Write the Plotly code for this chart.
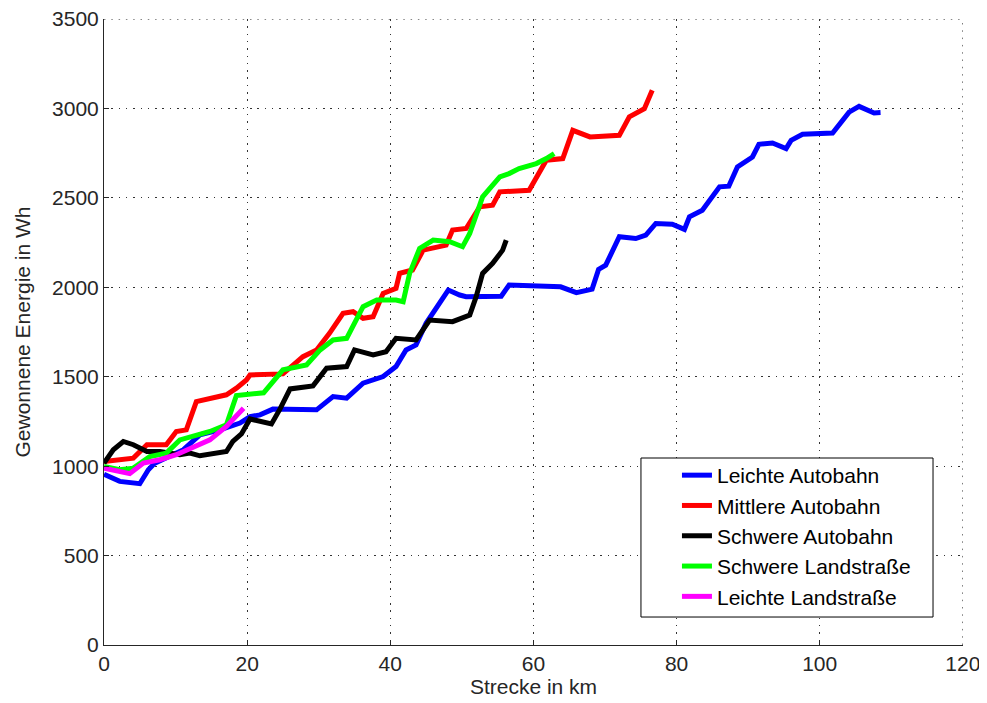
import plotly.graph_objects as go

# ---- data ----
blue_x = [0, 2.2, 5.0, 6.2, 7.1, 11.1, 13.4, 16.2, 19.0, 20.4, 21.8, 23.6, 29.7, 32.0, 33.9, 36.2, 39.0,
          40.8, 42.2, 43.6, 45.0, 46.9, 48.1, 49.7, 50.6, 55.5, 56.6, 63.8, 66.0, 68.2, 69.1, 70.1, 72.0,
          74.3, 75.7, 77.1, 79.4, 81.1, 81.8, 83.6, 84.6, 86.0, 87.3, 88.5, 90.6, 91.5, 93.4, 95.3, 96.0,
          97.6, 101.8, 102.7, 104.1, 105.5, 106.4, 107.6, 108.5]
blue_y = [955, 915, 902, 980, 1017, 1092, 1175, 1203, 1241, 1277, 1287, 1319, 1315, 1389, 1380, 1464, 1501,
          1557, 1650, 1678, 1799, 1911, 1985, 1957, 1948, 1950, 2013, 2003, 1970, 1990, 2100, 2124, 2283,
          2273, 2292, 2357, 2353, 2324, 2394, 2431, 2487, 2562, 2566, 2673, 2729, 2800, 2807, 2776, 2822,
          2856, 2863, 2906, 2980, 3012, 2999, 2975, 2977]

red_x = [0, 2.2, 4.1, 6.0, 8.7, 10.1, 11.5, 12.9, 14.8, 17.1, 18.5, 19.9, 20.4, 25.0, 27.8, 29.7, 31.5,
         33.4, 34.8, 36.2, 37.6, 39.0, 40.8, 41.3, 43.1, 44.6, 47.8, 48.7, 50.6, 52.5, 54.3, 55.3, 59.4,
         60.8, 61.8, 64.1, 65.5, 67.9, 72.0, 73.4, 75.5, 76.6]
red_y = [1026, 1036, 1045, 1120, 1120, 1194, 1203, 1361, 1380, 1399, 1436, 1482, 1510, 1516, 1612, 1650, 1743,
         1855, 1864, 1827, 1836, 1966, 1994, 2078, 2097, 2208, 2236, 2320, 2329, 2450, 2459, 2534, 2543,
         2636, 2711, 2720, 2878, 2841, 2850, 2953, 2999, 3102]

black_x = [0, 1.3, 2.7, 4.1, 6.0, 7.8, 10.6, 12.0, 13.4, 14.8, 17.1, 18.0, 19.2, 20.4, 21.8, 23.4, 24.6,
           26.0, 29.2, 31.1, 33.9, 35.0, 37.6, 39.4, 40.8, 43.6, 45.5, 48.7, 51.1, 52.0, 52.9, 54.3, 55.7, 56.2]
black_y = [1017, 1092, 1138, 1120, 1082, 1082, 1064, 1073, 1058, 1069, 1082, 1138, 1180, 1264, 1250, 1236, 1320,
           1432, 1449, 1548, 1557, 1650, 1622, 1640, 1715, 1706, 1817, 1808, 1845, 1948, 2078, 2134, 2208, 2264]

green_x = [0, 2.2, 4.1, 6.4, 8.7, 10.6, 14.8, 17.1, 18.5, 20.8, 22.3, 25.0, 28.3, 30.2, 32.0, 33.9, 36.2,
           38.1, 40.8, 41.8, 42.7, 44.1, 46.0, 48.3, 50.1, 51.1, 52.9, 55.3, 56.6, 58.0, 60.4, 61.8, 62.9]
green_y = [998, 980, 989, 1054, 1073, 1147, 1194, 1231, 1395, 1400, 1410, 1539, 1566, 1650, 1706, 1715, 1892,
           1929, 1929, 1920, 2078, 2218, 2264, 2255, 2227, 2301, 2506, 2618, 2636, 2664, 2692, 2720, 2748]

magenta_x = [0, 1.8, 3.6, 5.5, 7.8, 10.1, 12.5, 14.8, 17.1, 18.5, 19.5]
magenta_y = [989, 970, 958, 1017, 1036, 1064, 1110, 1147, 1222, 1278, 1324]

series = [
    ("Leichte Autobahn", blue_x, blue_y, "#0000FF"),
    ("Mittlere Autobahn", red_x, red_y, "#FF0000"),
    ("Schwere Autobahn", black_x, black_y, "#000000"),
    ("Schwere Landstraße", green_x, green_y, "#00FF00"),
    ("Leichte Landstraße", magenta_x, magenta_y, "#FF00FF"),
]

x_ticks = [0, 20, 40, 60, 80, 100, 120]
y_ticks = [0, 500, 1000, 1500, 2000, 2500, 3000, 3500]

GRID_DASH = "1.5px,5.8px"
GRID_COLOR = "#333333"

fig = go.Figure()
for name, xs, ys, col in series:
    fig.add_trace(go.Scatter(x=xs, y=ys, mode="lines", name=name,
                             line=dict(color=col, width=5)))

FAM = "Liberation Sans, Arial, sans-serif"
font = dict(family=FAM, size=21, color="#262626")

axis_common = dict(
    showline=True, linecolor="#262626", linewidth=1, mirror=False,
    ticks="inside", ticklen=5, tickcolor="#262626",
    showgrid=True, gridcolor=GRID_COLOR, griddash=GRID_DASH, gridwidth=1,
    zeroline=False, tickfont=font, automargin=False, ticklabeloverflow="allow",
)

# gridlines at the outer ends of the axes (plotly omits them at the plot edge)
fig.add_shape(type="line", xref="x", yref="y", x0=x_ticks[-1], x1=x_ticks[-1],
              y0=y_ticks[0], y1=y_ticks[-1], line=dict(color=GRID_COLOR, width=1, dash=GRID_DASH),
              layer="below")
fig.add_shape(type="line", xref="x", yref="y", x0=x_ticks[0], x1=x_ticks[-1],
              y0=y_ticks[-1], y1=y_ticks[-1], line=dict(color=GRID_COLOR, width=1, dash=GRID_DASH),
              layer="below")

# legend frame (wider than plotly's own legend box)
fig.add_shape(type="rect", xref="paper", yref="paper",
              x0=0.6251, x1=0.9651, y0=0.0447, y1=0.2987,
              line=dict(color="#000000", width=1), fillcolor="white", layer="above")

# page body adds 8px offset; sizes compensate so the plot area spans x 104..963, y 19..645
fig.update_layout(
    width=987, height=703,
    margin=dict(l=96, r=32, t=11, b=66),
    paper_bgcolor="white", plot_bgcolor="white",
    font=font,
    xaxis=dict(range=[0, 120.02], tickvals=x_ticks, ticktext=[str(v) for v in x_ticks],
               title=dict(text="Strecke in km", font=font, standoff=2), **axis_common),
    yaxis=dict(range=[0, 3500.5], tickvals=y_ticks, ticktext=[str(v) for v in y_ticks],
               title=dict(text="Gewonnene Energie in Wh", font=font), **axis_common),
    legend=dict(x=0.667, y=0.3035, xanchor="left", yanchor="top",
                bgcolor="rgba(0,0,0,0)", borderwidth=0,
                font=dict(family=FAM, size=21, color="#000000"),
                tracegroupgap=0),
    showlegend=True,
)

fig.write_html("out.html")
